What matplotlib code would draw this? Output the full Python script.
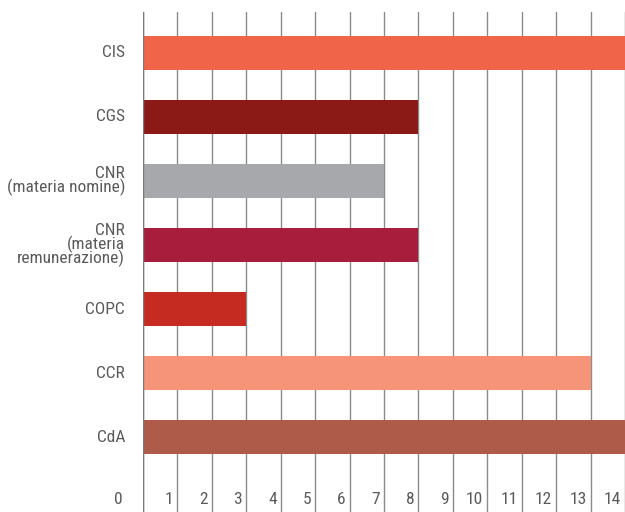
import matplotlib.pyplot as plt

categories = ["CIS", "CGS", "CNR\n(materia nomine)", "CNR\n(materia\nremunerazione)",
              "COPC", "CCR", "CdA"]
values = [14, 8, 7, 8, 3, 13, 14]
colors = ["#F0654A", "#8B1A17", "#A7A8AB", "#A81C3C", "#C62B22", "#F59478", "#AE5B4A"]
ticks = list(range(15))

plt.rcParams["font.family"] = ["Roboto Condensed", "Roboto", "DejaVu Sans"]

fig = plt.figure(figsize=(6.25, 5.12), dpi=100)
ax = fig.add_axes([143 / 625, 0, 1 - 143 / 625, 1 - 12 / 512])

pos = list(range(len(categories)))
for i in ticks:
    ax.axvline(i, color="#8a8a8a", lw=1, zorder=1)
ax.barh(pos, values, height=0.53, color=colors, zorder=2)
ax.axvline(0, color="#7a7a7a", lw=1, zorder=3)

ax.set_xlim(0, 14)
ax.set_ylim(7.17, -0.64)
ax.axis("off")

for p, lab in zip(pos, categories):
    ax.text(-0.52, p, lab, ha="right", va="center", multialignment="right",
            fontsize=12.5, color="#5a5a5a", linespacing=0.82)

for t in ticks:
    if t == 0:
        ax.text(-0.6, 6.98, "0", ha="right", va="center", fontsize=12.5, color="#5a5a5a")
    else:
        ax.text(t - 0.12, 6.98, str(t), ha="right", va="center", fontsize=12.5, color="#5a5a5a")

fig.savefig("out.png", dpi=100)
